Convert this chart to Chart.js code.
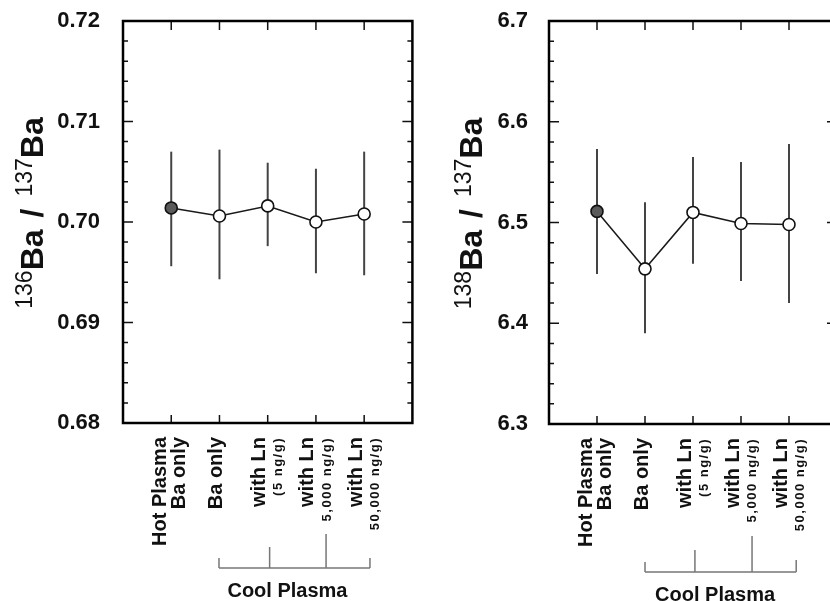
<!DOCTYPE html>
<html>
<head>
<meta charset="utf-8">
<script src="https://cdn.jsdelivr.net/npm/chart.js@4.4.0/dist/chart.umd.min.js"></script>
<style>
  body { margin: 0; width: 830px; height: 601px; overflow: hidden; background: #fff; position: relative; }
  .panel { position: absolute; top: 0; }
</style>
</head>
<body>
<div class="panel" style="left:0"><canvas id="left" width="420" height="601"></canvas></div>
<div class="panel" style="left:420px"><canvas id="right" width="460" height="601"></canvas></div>
<script>
// categories (x = 1..5), second line is drawn smaller for the Ln ones
const categories = [
  ["Hot Plasma", "Ba only"],
  ["Ba only"],
  ["with Ln", "(5 ng/g)"],
  ["with Ln", "5,000 ng/g)"],
  ["with Ln", "50,000 ng/g)"]
];
const xPositions = [1, 2, 3, 4, 5];
const coolPlasmaLabel = "Cool Plasma";

// 136Ba/137Ba
const ratio136 = [0.7014, 0.7006, 0.7016, 0.7000, 0.7008];
const ratio136Low = [0.6956, 0.6943, 0.6976, 0.6949, 0.6947];
const ratio136High = [0.7070, 0.7072, 0.7059, 0.7053, 0.7070];
const yTicks136 = [0.68, 0.69, 0.70, 0.71, 0.72];

// 138Ba/137Ba
const ratio138 = [6.511, 6.454, 6.510, 6.499, 6.498];
const ratio138Low = [6.449, 6.390, 6.459, 6.442, 6.420];
const ratio138High = [6.573, 6.520, 6.565, 6.560, 6.578];
const yTicks138 = [6.3, 6.4, 6.5, 6.6, 6.7];

const FONT = "'Liberation Sans', Arial, Helvetica, sans-serif";

// frame, inward ticks, error bars, rotated x labels, bracket, y title
const figurePlugin = {
  id: 'figure',
  beforeDatasetsDraw(chart) {
    const { ctx, scales: { x, y } } = chart;
    const p = chart.options.plugins.figure;
    ctx.save();
    ctx.strokeStyle = '#444';
    ctx.lineWidth = 2;
    for (let i = 0; i < xPositions.length; i++) {
      const px = x.getPixelForValue(xPositions[i]);
      ctx.beginPath();
      ctx.moveTo(px, y.getPixelForValue(p.low[i]));
      ctx.lineTo(px, y.getPixelForValue(p.high[i]));
      ctx.stroke();
    }
    ctx.restore();
  },
  afterDraw(chart) {
    const { ctx, chartArea: a, scales: { x, y } } = chart;
    const p = chart.options.plugins.figure;
    ctx.save();

    // ticks
    ctx.strokeStyle = '#111';
    ctx.lineWidth = 1.5;
    const t = p.ticks;
    for (let i = 0; i < t.length; i++) {
      const py = y.getPixelForValue(t[i]);
      ctx.beginPath();
      ctx.moveTo(a.left, py); ctx.lineTo(a.left + 10, py);
      ctx.moveTo(a.right, py); ctx.lineTo(a.right - 10, py);
      ctx.stroke();
      if (i < t.length - 1) {
        for (let k = 1; k < 5; k++) {
          const my = y.getPixelForValue(t[i] + (t[i + 1] - t[i]) * k / 5);
          ctx.beginPath();
          ctx.moveTo(a.left, my); ctx.lineTo(a.left + 5, my);
          ctx.moveTo(a.right, my); ctx.lineTo(a.right - 5, my);
          ctx.stroke();
        }
      }
    }
    xPositions.forEach(v => {
      const px = x.getPixelForValue(v);
      ctx.beginPath();
      ctx.moveTo(px, a.top); ctx.lineTo(px, a.top + 9);
      ctx.moveTo(px, a.bottom); ctx.lineTo(px, a.bottom - 8);
      ctx.stroke();
    });

    // frame
    ctx.lineWidth = 2.5;
    ctx.strokeStyle = '#000';
    ctx.strokeRect(a.left, a.top, a.right - a.left, a.bottom - a.top);

    // x labels, rotated
    ctx.fillStyle = '#111';
    ctx.textAlign = 'right';
    ctx.textBaseline = 'middle';
    categories.forEach((lines, i) => {
      const px = x.getPixelForValue(xPositions[i]);
      const top = a.bottom + 14;
      const draw = (txt, dx, font, spacing) => {
        ctx.save();
        ctx.translate(px + dx, top);
        ctx.rotate(-Math.PI / 2);
        ctx.font = font;
        ctx.letterSpacing = spacing || '0px';
        ctx.fillText(txt, 0, 0);
        ctx.restore();
      };
      if (lines.length === 1) {
        draw(lines[0], -3, 'bold 20px ' + FONT);
      } else if (i === 0) {
        draw(lines[0], -11, 'bold 20px ' + FONT);
        draw(lines[1], 8, 'bold 20px ' + FONT);
      } else {
        draw(lines[0], -8, 'bold 20px ' + FONT);
        draw(lines[1], 11, 'bold 13px ' + FONT, '1.5px');
      }
    });

    // Cool Plasma bracket
    const b = p.bracket;
    const by = a.bottom + b.dy;
    ctx.strokeStyle = '#777';
    ctx.lineWidth = 1.5;
    ctx.beginPath();
    ctx.moveTo(x.getPixelForValue(b.stems[0][0]), by);
    ctx.lineTo(x.getPixelForValue(b.stems[b.stems.length - 1][0]), by);
    b.stems.forEach(([v, h]) => {
      const px = x.getPixelForValue(v);
      ctx.moveTo(px, by); ctx.lineTo(px, by - h);
    });
    ctx.stroke();
    ctx.fillStyle = '#111';
    ctx.font = 'bold 20px ' + FONT;
    ctx.textAlign = 'center';
    ctx.textBaseline = 'alphabetic';
    ctx.fillText(coolPlasmaLabel, x.getPixelForValue(b.labelAt), by + b.labelDy);

    // y title with superscript mass numbers
    const parts = [
      [p.title[0], 'normal 23px ' + FONT, -11, 0],
      ['Ba', 'bold 32px ' + FONT, 0, 0],
      ['/', 'bold 32px ' + FONT, 0, 24],
      [p.title[1], 'normal 23px ' + FONT, -11, 0],
      ['Ba', 'bold 32px ' + FONT, 0, 0]
    ];
    let total = 0;
    parts.forEach(q => { ctx.font = q[1]; q.push(ctx.measureText(q[0]).width + q[3]); total += q[4]; });
    ctx.save();
    ctx.translate(p.titleX, (a.top + a.bottom) / 2 - 9);
    ctx.rotate(-Math.PI / 2);
    ctx.textAlign = 'left';
    ctx.textBaseline = 'alphabetic';
    let cx = -total / 2;
    parts.forEach(q => {
      ctx.font = q[1];
      ctx.fillText(q[0], cx + q[3] / 2, q[2]);
      cx += q[4];
    });
    ctx.restore();

    ctx.restore();
  }
};

function makePanel(id, values, low, high, ticks, decimals, axisWidth, pad, titleX, title, bracket) {
  new Chart(document.getElementById(id), {
    type: 'line',
    data: {
      datasets: [{
        data: xPositions.map((v, i) => ({ x: v, y: values[i] })),
        borderColor: '#1a1a1a',
        borderWidth: 1.5,
        pointRadius: 6,
        pointBorderWidth: 1.6,
        pointBorderColor: '#111',
        pointBackgroundColor: values.map((v, i) => i === 0 ? '#5a5a5a' : '#fff'),
        tension: 0
      }]
    },
    options: {
      responsive: false,
      animation: false,
      layout: { padding: pad },
      plugins: {
        legend: { display: false },
        tooltip: { enabled: false },
        figure: { low, high, ticks, titleX, title, bracket }
      },
      scales: {
        x: { type: 'linear', min: 0, max: 6, display: false },
        y: {
          min: ticks[0],
          max: ticks[ticks.length - 1],
          afterFit(s) { s.width = axisWidth; s.paddingTop = 0; s.paddingBottom = 0; },
          afterBuildTicks(s) { s.ticks = ticks.map(v => ({ value: v })); },
          grid: { display: false, drawTicks: false },
          border: { display: false },
          ticks: {
            padding: pad.tickPad,
            color: '#111',
            font: { family: FONT, size: 22, weight: 'bold' },
            callback: v => Number(v).toFixed(decimals)
          }
        }
      }
    },
    plugins: [figurePlugin]
  });
}

makePanel('left', ratio136, ratio136Low, ratio136High, yTicks136, 2, 123,
  { left: 0, right: 5, top: 21, bottom: 178, tickPad: 23 }, 43, ['136', '137'],
  { dy: 145, stems: [[1.99, 10], [3.04, 21], [4.21, 34], [5.12, 10]], labelAt: 3.41, labelDy: 29 });

makePanel('right', ratio138, ratio138Low, ratio138High, yTicks138, 1, 129,
  { left: 0, right: 43, top: 21, bottom: 177, tickPad: 21 }, 62, ['138', '137'],
  { dy: 148, stems: [[2.0, 10], [3.04, 22], [4.23, 36], [5.15, 12]], labelAt: 3.46, labelDy: 29 });
</script>
</body>
</html>
